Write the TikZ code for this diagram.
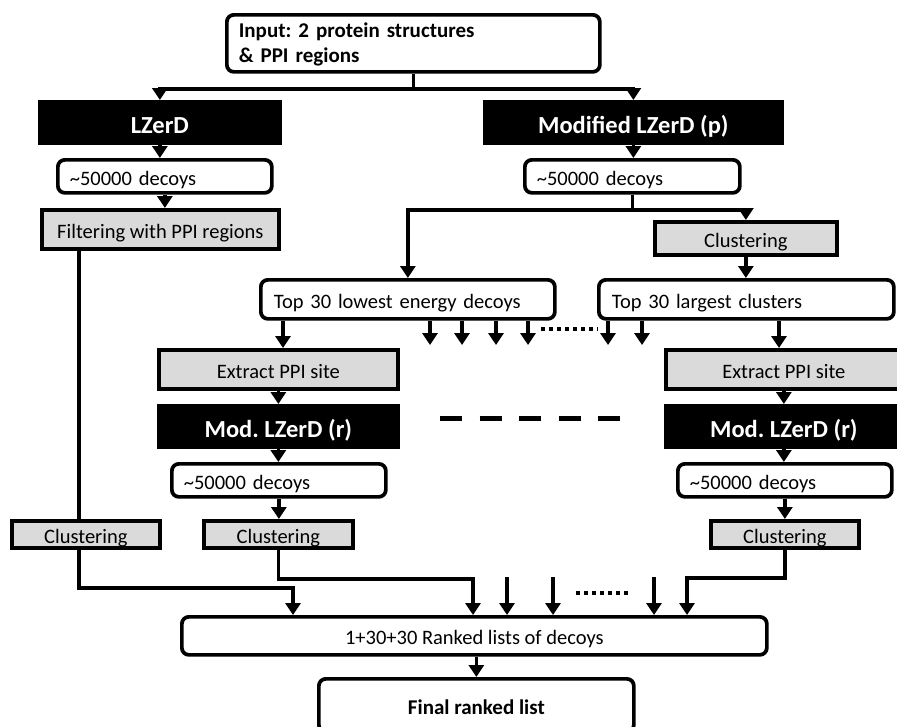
\documentclass[tikz,border=0pt]{standalone}
\usepackage{fontspec}
\setmainfont{Carlito}
\usetikzlibrary{arrows.meta,shadows}

\definecolor{boxgray}{RGB}{218,218,218}

\tikzset{
  box/.style={draw=black, line width=3.7pt, anchor=north west, inner sep=0pt,
    font=\fontsize{20.5}{24}\selectfont},
  oneline/.style={text height=17.7pt, text depth=0pt},
  boxshadow/.style={drop shadow={shadow xshift=2.5pt, shadow yshift=-2.5pt,
    opacity=0.22, fill=black}},
  roundbox/.style={box, rounded corners=7pt, fill=white},
  leftbox/.style={roundbox, oneline, align=left, inner xsep=12pt},
  graybox/.style={box, oneline, fill=boxgray, boxshadow, align=center},
  smallgray/.style={graybox, minimum height=27pt},
  blackbox/.style={box, fill=black, text=white, boxshadow, align=center,
    text height=22pt, text depth=0pt,
    font=\fontsize{24.5}{28}\selectfont\bfseries},
  conn/.style={line width=3.7pt},
  arr/.style={conn, -{Triangle[width=15pt,length=12pt]}},
  dotline/.style={line width=4pt, dash pattern=on 4pt off 4pt},
  dashline/.style={line width=5pt, dash pattern=on 22pt off 17.5pt}
}

\begin{document}
\frenchspacing
\begin{tikzpicture}[x=1pt, y=-1pt]
  \clip (0,0) rectangle (897,726);
  \fill[white] (0,0) rectangle (897,726);

  % top input
  \node[roundbox, align=left, inner xsep=12pt, text width=349pt, minimum height=57pt,
        font=\fontsize{21}{25}\selectfont\bfseries] (input) at (225,13)
        {\rule{0pt}{17pt}Input: 2 protein structures\\\& PPI regions};

  % first stage dockings
  \node[blackbox, minimum width=240pt, minimum height=41pt] (lz) at (38,100) {LZerD};
  \node[blackbox, minimum width=297pt, minimum height=41pt] (mlz) at (483,100) {Modified LZerD (p)};

  \node[leftbox, text width=190pt, minimum height=33pt] (dec1) at (56,158) {\textasciitilde50000 decoys};
  \node[leftbox, text width=191pt, minimum height=33pt] (dec2) at (523,158) {\textasciitilde50000 decoys};

  \node[graybox, minimum width=237pt, minimum height=39pt] (filt) at (40,208) {Filtering with PPI regions};
  \node[graybox, minimum width=182pt, minimum height=33pt] (clu0) at (653,220) {Clustering};

  \node[leftbox, text width=268pt, inner xsep=13pt, minimum height=39pt] (top1) at (259,278) {Top 30 lowest energy decoys};
  \node[leftbox, text width=269pt, inner xsep=13pt, minimum height=39pt] (top2) at (597,278) {Top 30 largest clusters};

  % second stage dockings
  \node[graybox, minimum width=239pt, minimum height=39pt] (ext1) at (157,348) {Extract PPI site};
  \node[graybox, minimum width=236pt, minimum height=39pt] (ext2) at (664,348) {Extract PPI site};
  \node[blackbox, minimum width=239pt, minimum height=41pt] (mod1) at (157,404) {Mod. LZerD (r)};
  \node[blackbox, minimum width=236pt, minimum height=41pt] (mod2) at (664,404) {Mod. LZerD (r)};

  \node[leftbox, text width=190pt, minimum height=33pt] (dec3) at (170,462) {\textasciitilde50000 decoys};
  \node[leftbox, text width=190pt, minimum height=33pt] (dec4) at (676,462) {\textasciitilde50000 decoys};

  \node[smallgray, minimum width=148pt] (cl1) at (10,519) {Clustering};
  \node[smallgray, minimum width=149pt] (cl2) at (202,519) {Clustering};
  \node[smallgray, minimum width=148pt] (cl3) at (709,519) {Clustering};

  % results
  \node[roundbox, oneline, minimum width=585pt, minimum height=38pt] (rank) at (180,615) {1+30+30 Ranked lists of decoys};
  \node[roundbox, text height=19pt, text depth=0pt, minimum width=315pt, minimum height=53pt,
        font=\fontsize{21}{25}\selectfont\bfseries] (final) at (317,677) {Final ranked list};

  % helper coordinates
  \coordinate (lx) at (79,0);
  \coordinate (j1) at (79,588);
  \coordinate (r1) at (293,0);
  \coordinate (a1) at (283,0);
  \coordinate (a2) at (779,0);
  \coordinate (j2) at (0,579);
  \coordinate (r2) at (473,0);
  \coordinate (j3) at (0,578);
  \coordinate (r6) at (687,0);
  \coordinate (dl) at (541,329);
  \coordinate (dr) at (598,329);
  \coordinate (ml) at (440,418);
  \coordinate (mr) at (620,418);
  \coordinate (el) at (576,593);
  \coordinate (er) at (631,593);

  % input split
  \draw[arr] (input.south) -- ++(0,15) coordinate (split1) -| (lz.north);
  \draw[arr] (split1) -| (mlz.north);

  % left branch
  \draw[arr] (lz.south) -- (lz.south |- dec1.north);
  \draw[arr] (dec1.south) -- (dec1.south |- filt.north);
  \draw[conn] (filt.south -| lx) -- (cl1.north -| lx);
  \draw[arr] (cl1.south -| j1) -- (j1) -| (rank.north -| r1);

  % right branch
  \draw[arr] (mlz.south) -- (mlz.south |- dec2.north);
  \draw[arr] (dec2.south) -- ++(0,15) coordinate (split2) -| (top1.north);
  \draw[arr] (split2) -| (clu0.north);
  \draw[arr] (clu0.south) -- (clu0.south |- top2.north);

  % fan-out of selected models
  \draw[arr] (top1.south -| a1) -- (ext1.north -| a1);
  \foreach \x/\n in {430/s1,462/s2,496/s3,528/s4} {
    \coordinate (\n) at (\x,345);
    \draw[arr] (\n |- top1.south) -- (\n);
  }
  \foreach \x/\n in {608/s5,642/s6} {
    \coordinate (\n) at (\x,345);
    \draw[arr] (\n |- top2.south) -- (\n);
  }
  \draw[dotline] (dl) -- (dr);
  \draw[arr] (top2.south -| a2) -- (ext2.north -| a2);

  % second stage chains
  \draw[arr] (ext1.south) -- (mod1.north);
  \draw[arr] (mod1.south) -- (mod1.south |- dec3.north);
  \draw[arr] (dec3.south) -- (dec3.south |- cl2.north);
  \draw[arr] (ext2.south) -- (mod2.north);
  \draw[arr] (mod2.south) -- (mod2.south |- dec4.north);
  \draw[arr] (dec4.south) -- (dec4.south |- cl3.north);
  \draw[dashline] (ml) -- (mr);

  % fan-in to ranked lists
  \draw[arr] (cl2.south) -- (cl2.south |- j2) -| (rank.north -| r2);
  \draw[arr] (cl3.south) -- (cl3.south |- j3) -| (rank.north -| r6);
  \foreach \x/\n in {507/q1,553/q2,654/q3} {
    \coordinate (\n) at (\x,577);
    \draw[arr] (\n) -- (rank.north -| \n);
  }
  \draw[dotline] (el) -- (er);

  \draw[arr] (rank.south -| final.north) -- (final.north);
\end{tikzpicture}
\end{document}
